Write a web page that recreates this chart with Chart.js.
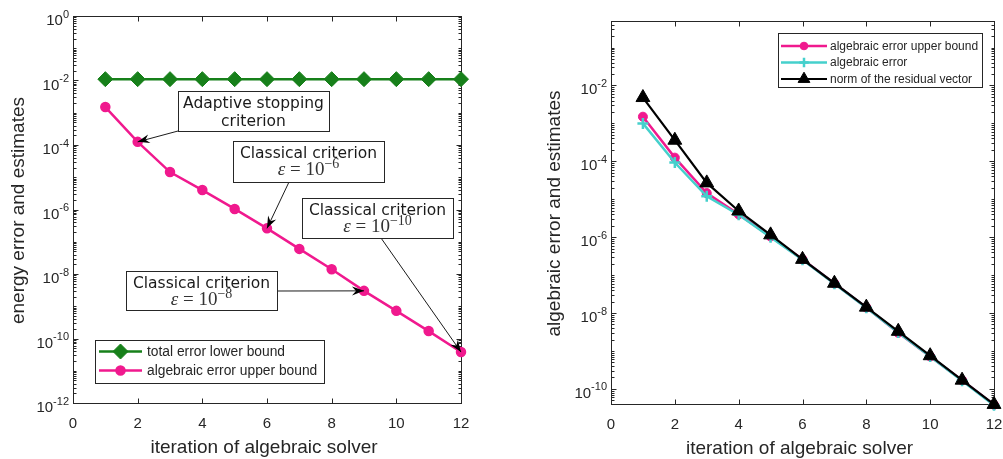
<!DOCTYPE html>
<html>
<head>
<meta charset="utf-8">
<script src="https://cdn.jsdelivr.net/npm/chart.js@4/dist/chart.umd.min.js"></script>
<style>
    html, body { margin: 0; padding: 0; background: #fff; }
    #wrap { position: relative; width: 1003px; height: 459px; overflow: hidden; }
    canvas { position: absolute; top: 0; }
</style>
</head>
<body>
<div id="wrap">
    <canvas id="left-chart" width="500" height="459" style="left:0"></canvas>
    <canvas id="right-chart" width="503" height="459" style="left:500px"></canvas>
</div>
<script>
// ── Data ─────────────────────────────────────────────────────
const iterations = [1, 2, 3, 4, 5, 6, 7, 8, 9, 10, 11, 12];
const totalLowerBound = [0.011, 0.011, 0.011, 0.011, 0.011, 0.011, 0.011, 0.011, 0.011, 0.011, 0.011, 0.011];
const algUpperBound = [1.5e-3, 1.25e-4, 1.45e-5, 4.0e-6, 1.04e-6, 2.6e-7, 6.0e-8, 1.4e-8, 3.0e-9, 7.2e-10, 1.7e-10, 3.8e-11];
const algError = [1.0e-3, 9.3e-5, 1.2e-5, 3.9e-6, 1.0e-6, 2.55e-7, 5.9e-8, 1.38e-8, 3.05e-9, 7.1e-10, 1.65e-10, 3.7e-11];
const residualNorm = [4.8e-3, 3.6e-4, 2.7e-5, 4.9e-6, 1.15e-6, 2.6e-7, 6.1e-8, 1.43e-8, 3.3e-9, 7.5e-10, 1.7e-10, 3.9e-11];

const xTicks = [0, 2, 4, 6, 8, 10, 12];
const leftYExponents = [0, -2, -4, -6, -8, -10, -12];
const rightYExponents = [-2, -4, -6, -8, -10];

// ── Styles ───────────────────────────────────────────────────
const AXIS_COLOR = '#262626';
const SANS = '"Liberation Sans", Arial, Helvetica, sans-serif';
const GREEN = '#17801a';
const PINK = '#f0198e';
const CYAN = '#45d0cc';

function points(values) {
    return iterations.map((x, i) => ({ x, y: values[i] }));
}

// ── Drawing helpers ──────────────────────────────────────────
function drawPow(ctx, exp, xRight, yTick) {
    const base = '10';
    const sup = String(exp);
    ctx.font = '11px ' + SANS;
    const sw = ctx.measureText(sup).width;
    ctx.textAlign = 'left';
    ctx.textBaseline = 'alphabetic';
    ctx.fillText(sup, xRight - sw, yTick + 1.5);
    ctx.font = '15px ' + SANS;
    const bw = ctx.measureText(base).width;
    ctx.fillText(base, xRight - sw - bw, yTick + 9);
}

function drawHead(ctx, from, to) {
    const ang = Math.atan2(to[1] - from[1], to[0] - from[0]);
    ctx.save();
    ctx.translate(to[0], to[1]);
    ctx.rotate(ang);
    ctx.beginPath();
    ctx.moveTo(0, 0);
    ctx.lineTo(-12, -4.5);
    ctx.lineTo(-8, 0);
    ctx.lineTo(-12, 4.5);
    ctx.closePath();
    ctx.fill();
    ctx.restore();
}

function drawEps(ctx, exp, cx, baseline) {
    const parts = [
        { t: '\u03b5', f: 'italic 19px "Liberation Serif", serif', dy: 0 },
        { t: ' = 10', f: '19px "Liberation Serif", serif', dy: 0 },
        { t: '\u2212' + Math.abs(exp), f: '14px "Liberation Serif", serif', dy: -7 },
    ];
    let total = 0;
    parts.forEach(p => { ctx.font = p.f; p.w = ctx.measureText(p.t).width; total += p.w; });
    let x = cx - total / 2;
    ctx.textAlign = 'left';
    parts.forEach(p => { ctx.font = p.f; ctx.fillText(p.t, x, baseline + p.dy); x += p.w; });
}

// ── Matlab-style frame plugin ────────────────────────────────
const matlabFrame = {
    id: 'matlabFrame',
    beforeDatasetsDraw(chart, args, opts) {
        const { ctx, chartArea: a, scales } = chart;
        const L = Math.round(a.left) + 0.5, R = Math.round(a.right) + 0.5;
        const T = Math.round(a.top) + 0.5, B = Math.round(a.bottom) + 0.5;
        ctx.save();
        ctx.strokeStyle = AXIS_COLOR;
        ctx.lineWidth = 1;
        ctx.strokeRect(L, T, R - L, B - T);

        ctx.beginPath();
        xTicks.forEach(v => {
            const px = Math.round(scales.x.getPixelForValue(v)) + 0.5;
            ctx.moveTo(px, B); ctx.lineTo(px, B - 5);
            ctx.moveTo(px, T); ctx.lineTo(px, T + 5);
        });
        const lo = Math.floor(Math.log10(scales.y.min));
        const hi = Math.ceil(Math.log10(scales.y.max));
        for (let k = lo; k <= hi; k++) {
            for (let m = 1; m <= 9; m++) {
                const v = m * Math.pow(10, k);
                if (v < scales.y.min * 0.999 || v > scales.y.max * 1.001) continue;
                const major = m === 1 && opts.yExponents.includes(k);
                const len = major ? 5 : 3;
                const py = Math.round(scales.y.getPixelForValue(v)) + 0.5;
                ctx.moveTo(L, py); ctx.lineTo(L + len, py);
                ctx.moveTo(R, py); ctx.lineTo(R - len, py);
            }
        }
        ctx.stroke();

        ctx.fillStyle = AXIS_COLOR;
        opts.yExponents.forEach(e => drawPow(ctx, e, a.left - 4, scales.y.getPixelForValue(Math.pow(10, e))));
        ctx.font = '15px ' + SANS;
        ctx.textAlign = 'center';
        ctx.textBaseline = 'alphabetic';
        xTicks.forEach(v => ctx.fillText(String(v), scales.x.getPixelForValue(v), a.bottom + 25));

        ctx.font = '19px ' + SANS;
        ctx.fillText(opts.xTitle, (a.left + a.right) / 2 - 3, a.bottom + 50);
        ctx.save();
        ctx.translate(opts.yTitleX, (a.top + a.bottom) / 2 + 1);
        ctx.rotate(-Math.PI / 2);
        ctx.textBaseline = 'middle';
        ctx.fillText(opts.yTitle, 0, 0);
        ctx.restore();
        ctx.restore();
    },
    afterDatasetsDraw(chart, args, opts) {
        const { ctx, scales } = chart;
        ctx.save();
        (opts.annotations || []).forEach(an => {
            const [x1, y1, x2, y2] = an.box;
            const tip = [scales.x.getPixelForValue(an.target), scales.y.getPixelForValue(algUpperBound[an.target - 1])];
            ctx.strokeStyle = '#000';
            ctx.fillStyle = '#000';
            ctx.lineWidth = 0.9;
            ctx.beginPath();
            ctx.moveTo(an.from[0], an.from[1]);
            ctx.lineTo(tip[0], tip[1]);
            ctx.stroke();
            drawHead(ctx, an.from, tip);

            ctx.fillStyle = '#fff';
            ctx.fillRect(x1, y1, x2 - x1, y2 - y1);
            ctx.strokeStyle = AXIS_COLOR;
            ctx.lineWidth = 1;
            ctx.strokeRect(x1 + 0.5, y1 + 0.5, x2 - x1, y2 - y1);

            const cx = (x1 + x2) / 2;
            ctx.fillStyle = '#1a1a1a';
            ctx.textAlign = 'center';
            ctx.textBaseline = 'alphabetic';
            ctx.font = '15.5px "DejaVu Sans", sans-serif';
            ctx.fillText(an.lines[0], cx, y1 + 16.5);
            if (an.eps !== undefined) {
                ctx.fillStyle = '#333';
                drawEps(ctx, an.eps, cx, y1 + 34);
            } else {
                ctx.fillText(an.lines[1], cx, y1 + 35);
            }
        });

        const lg = opts.legend;
        if (lg) {
            const [x1, y1, x2, y2] = lg.box;
            ctx.fillStyle = '#fff';
            ctx.fillRect(x1, y1, x2 - x1, y2 - y1);
            ctx.strokeStyle = AXIS_COLOR;
            ctx.lineWidth = 1;
            ctx.strokeRect(x1 + 0.5, y1 + 0.5, x2 - x1, y2 - y1);
            lg.items.forEach((dsIndex, i) => {
                const ds = chart.data.datasets[dsIndex];
                const y = lg.rows[i];
                ctx.strokeStyle = ds.borderColor;
                ctx.lineWidth = ds.borderWidth;
                ctx.beginPath();
                ctx.moveTo(lg.line[0], y);
                ctx.lineTo(lg.line[1], y);
                ctx.stroke();
                ctx.fillStyle = ds.pointBackgroundColor;
                ctx.lineWidth = ds.pointBorderWidth;
                Chart.helpers.drawPoint(ctx, {
                    pointStyle: ds.pointStyle, radius: ds.pointRadius * lg.markerScale,
                    rotation: 0, borderWidth: ds.pointBorderWidth,
                }, (lg.line[0] + lg.line[1]) / 2, y);
                ctx.fillStyle = AXIS_COLOR;
                ctx.font = lg.font;
                ctx.textAlign = 'left';
                ctx.textBaseline = 'middle';
                ctx.fillText(ds.label, lg.textX, y + 0.5);
            });
        }
        ctx.restore();
    },
};

// ── Chart factory ────────────────────────────────────────────
function makeChart(id, datasets, yMin, yMax, padding, frame) {
    return new Chart(document.getElementById(id), {
        type: 'line',
        data: { datasets },
        options: {
            responsive: false,
            animation: false,
            devicePixelRatio: 1,
            layout: { padding },
            plugins: { legend: { display: false }, tooltip: { enabled: false }, matlabFrame: frame },
            scales: {
                x: { type: 'linear', min: 0, max: 12, display: false },
                y: { type: 'logarithmic', min: yMin, max: yMax, display: false },
            },
        },
        plugins: [matlabFrame],
    });
}

function series(label, values, color, style, radius, extra) {
    return Object.assign({
        label,
        data: points(values),
        borderColor: color,
        backgroundColor: color,
        pointBackgroundColor: color,
        pointBorderColor: color,
        borderWidth: 2.5,
        pointBorderWidth: 1,
        pointStyle: style,
        pointRadius: radius,
        tension: 0,
        clip: false,
    }, extra || {});
}

// ── Left: energy error and estimates ─────────────────────────
makeChart('left-chart', [
    series('total error lower bound', totalLowerBound, GREEN, 'rectRot', 7.5),
    series('algebraic error upper bound', algUpperBound, PINK, 'circle', 4.5, { pointBorderWidth: 1.5 }),
], 1e-12, 1, { left: 73, right: 39, top: 16, bottom: 56 }, {
    yExponents: leftYExponents,
    xTitle: 'iteration of algebraic solver',
    yTitle: 'energy error and estimates',
    yTitleX: 19,
    annotations: [
        { lines: ['Adaptive stopping', 'criterion'], target: 2, box: [178, 91, 329, 131], from: [178, 131] },
        { lines: ['Classical criterion'], eps: -6, target: 6, box: [233, 141, 384, 182], from: [289, 182] },
        { lines: ['Classical criterion'], eps: -10, target: 12, box: [302, 198, 453, 238], from: [381, 238] },
        { lines: ['Classical criterion'], eps: -8, target: 9, box: [126, 271, 277, 310], from: [277, 291] },
    ],
    legend: {
        box: [95, 340, 324, 383], rows: [351.5, 370.5], line: [99, 142], textX: 147,
        font: '13.8px ' + SANS, items: [0, 1], markerScale: 1,
    },
});

// ── Right: algebraic error and estimates ─────────────────────
makeChart('right-chart', [
    series('norm of the residual vector', residualNorm, '#000000', 'triangle', 8, { borderWidth: 2.2 }),
    series('algebraic error', algError, CYAN, 'cross', 5.5, { pointBorderWidth: 2.5 }),
    series('algebraic error upper bound', algUpperBound, PINK, 'circle', 4.5, { pointBorderWidth: 1 }),
], 4e-11, 0.5, { left: 111, right: 6, top: 21, bottom: 55 }, {
    yExponents: rightYExponents,
    xTitle: 'iteration of algebraic solver',
    yTitle: 'algebraic error and estimates',
    yTitleX: 55,
    legend: {
        box: [278, 33, 482, 87], rows: [46, 62.5, 79], line: [281, 327], textX: 330,
        font: '12px ' + SANS, items: [2, 1, 0], markerScale: 0.85,
    },
});
</script>
</body>
</html>
